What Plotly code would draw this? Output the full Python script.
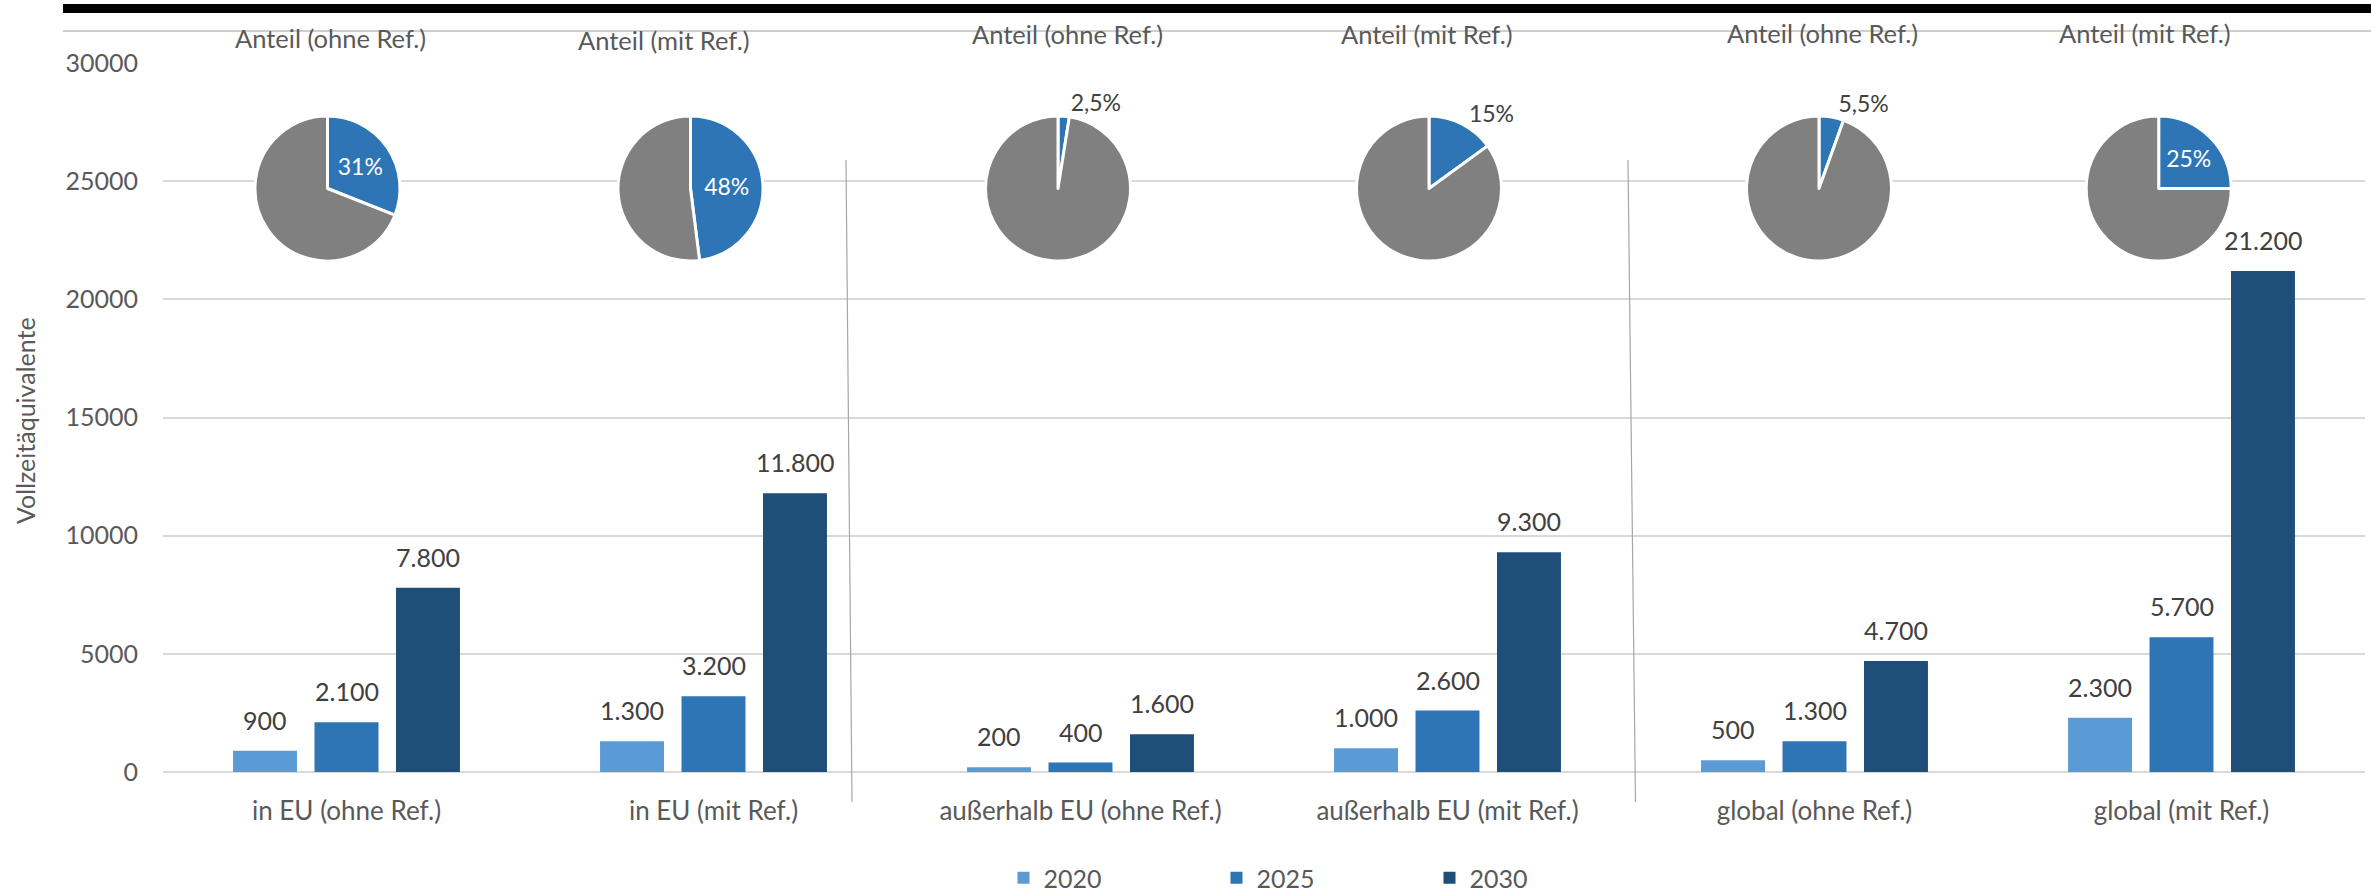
import plotly.graph_objects as go

# ---------------- data ----------------
categories = ["in EU (ohne Ref.)", "in EU (mit Ref.)", "außerhalb EU (ohne Ref.)",
              "außerhalb EU (mit Ref.)", "global (ohne Ref.)", "global (mit Ref.)"]
years = ["2020", "2025", "2030"]
v2020 = [900, 1300, 200, 1000, 500, 2300]
v2025 = [2100, 3200, 400, 2600, 1300, 5700]
v2030 = [7800, 11800, 1600, 9300, 4700, 21200]
pie_titles = ["Anteil (ohne Ref.)", "Anteil (mit Ref.)", "Anteil (ohne Ref.)",
              "Anteil (mit Ref.)", "Anteil (ohne Ref.)", "Anteil (mit Ref.)"]
pie_share = [31, 48, 2.5, 15, 5.5, 25]
y_ticks = [0, 5000, 10000, 15000, 20000, 25000, 30000]

# ---------------- style ----------------
W, H = 2371, 893
ML, MR, MT, MB = 163, 6, 63, 121
PW, PH = W - ML - MR, H - MT - MB
FONT = "Lato"
TXT = "#595959"
LBL = "#404040"
colors = ["#5B9BD5", "#2E75B6", "#1F4E79"]
GRAY = "#808080"
BARGAP, BARGROUPGAP = 0.334, 0.215

def px_x(p):
    return (p - ML) / PW

def px_y(p):
    return (H - MB - p) / PH

fig = go.Figure()
series = [v2020, v2025, v2030]
for name, vals, c in zip(years, series, colors):
    fig.add_trace(go.Bar(x=categories, y=vals, name=name, marker_color=c,
                         marker_line_width=0, hoverinfo="x+y"))

def fmt(v):
    return f"{v:,}".replace(",", ".")

def fmt_pct(v):
    return (f"{v:g}".replace(".", ",")) + "%"

# data labels (annotations placed at the bar values)
cat_px = PW / len(categories)
pitch = cat_px * (1 - BARGAP) / 3
annotations = []
for j, vals in enumerate(series):
    for i, v in enumerate(vals):
        annotations.append(dict(x=categories[i], y=v, xref="x", yref="y",
                                text=fmt(v), showarrow=False, yanchor="bottom",
                                xshift=(j - 1) * pitch, yshift=14,
                                font=dict(family=FONT, size=25, color=LBL)))

# pies
pie_cx = [327.5, 690.5, 1058, 1429, 1819, 2158.7]
pie_cy = 188.5
R = 72.5
title_pos = [(330, 38), (664, 40), (1067, 34), (1427, 34), (1822, 33), (2145, 33)]
for k, s in enumerate(pie_share):
    inside = s >= 20
    fig.add_trace(go.Pie(
        values=[s, 100 - s], labels=["Anteil", "Rest"],
        text=[fmt_pct(s), ""], textinfo="text",
        textposition=["inside" if inside else "outside", "none"],
        insidetextorientation="horizontal",
        insidetextfont=dict(family=FONT, size=23, color="white"),
        outsidetextfont=dict(family=FONT, size=23, color=LBL),
        marker=dict(colors=[colors[1], GRAY], line=dict(color="white", width=3)),
        sort=False, direction="clockwise", rotation=0, showlegend=False,
        domain=dict(x=[px_x(pie_cx[k] - R), px_x(pie_cx[k] + R)],
                    y=[px_y(pie_cy + R), px_y(pie_cy - R)]),
        hoverinfo="label+percent"))
    tx, ty = title_pos[k]
    annotations.append(dict(x=px_x(tx), y=px_y(ty), xref="paper", yref="paper",
                            text=pie_titles[k], showarrow=False,
                            xanchor="center", yanchor="middle",
                            font=dict(family=FONT, size=25.5, color=TXT)))

# y axis title
annotations.append(dict(x=px_x(25), y=px_y(421), xref="paper", yref="paper",
                        text="Vollzeitäquivalente", textangle=-90, showarrow=False,
                        xanchor="center", yanchor="middle",
                        font=dict(family=FONT, size=25, color=TXT)))

shapes = [
    # black top bar
    dict(type="line", xref="paper", yref="paper", x0=px_x(63), x1=px_x(W),
         y0=px_y(8.5), y1=px_y(8.5), line=dict(color="black", width=9)),
    # thin gray line
    dict(type="line", xref="paper", yref="paper", x0=px_x(63), x1=px_x(W),
         y0=px_y(31), y1=px_y(31), line=dict(color="#BFBFBF", width=1.5)),
    # separators
    dict(type="line", xref="paper", yref="paper", x0=px_x(846), x1=px_x(852),
         y0=px_y(160), y1=px_y(802), line=dict(color="#A6A6A6", width=1.2)),
    dict(type="line", xref="paper", yref="paper", x0=px_x(1628), x1=px_x(1635.5),
         y0=px_y(160), y1=px_y(802), line=dict(color="#A6A6A6", width=1.2)),
]
# white halo behind pies (hides gridlines around pies)
for cx in pie_cx:
    shapes.append(dict(type="circle", xref="paper", yref="paper", layer="between",
                       x0=px_x(cx - R - 4), x1=px_x(cx + R + 4),
                       y0=px_y(pie_cy + R + 4), y1=px_y(pie_cy - R - 4),
                       fillcolor="white", line=dict(width=0)))

fig.update_layout(
    width=W, height=H,
    margin=dict(l=ML, r=MR, t=MT, b=MB, autoexpand=False),
    paper_bgcolor="white", plot_bgcolor="white",
    barmode="group", bargap=BARGAP, bargroupgap=BARGROUPGAP,
    font=dict(family=FONT, size=25, color=TXT),
    xaxis=dict(type="category", showgrid=False, showline=False, ticks="",
               ticklabelstandoff=21,
               tickfont=dict(family=FONT, size=26, color=TXT)),
    yaxis=dict(range=[0, 30000], tickvals=y_ticks, tickformat="d",
               showgrid=True, gridcolor="#D9D9D9", gridwidth=1.5,
               zeroline=True, zerolinecolor="#D9D9D9", zerolinewidth=1.5,
               showline=False, ticks="", ticklabelstandoff=24,
               tickfont=dict(family=FONT, size=25, color=TXT)),
    legend=dict(orientation="h", x=px_x(1323), xanchor="center", y=px_y(878), yanchor="middle",
                font=dict(family=FONT, size=25, color=TXT),
                entrywidth=168, entrywidthmode="pixels", itemclick=False,
                borderwidth=0, tracegroupgap=0),
    annotations=annotations,
    shapes=shapes,
    showlegend=True,
)

fig.write_html("out.html")
